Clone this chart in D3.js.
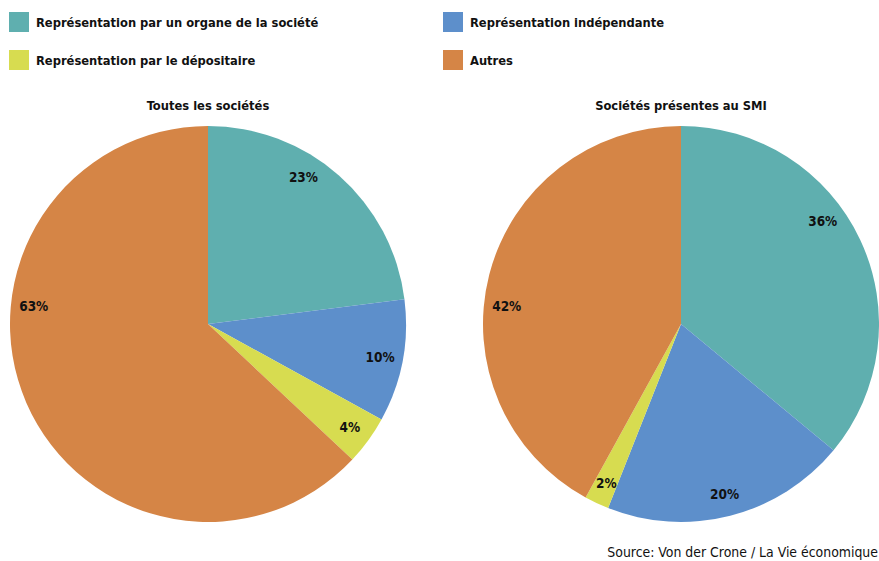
<!DOCTYPE html>
<html lang="fr">
<head>
<meta charset="utf-8">
<title>Représentation</title>
<script src="https://cdn.jsdelivr.net/npm/d3@7"></script>
<style>
  body { margin: 0; background: #fff; }
  text { font-family: "DejaVu Sans Condensed", "Liberation Sans Narrow", sans-serif; fill: #111; }
</style>
</head>
<body>
<script>
// categories and values
var categories = ["Représentation par un organe de la société", "Représentation indépendante",
                  "Représentation par le dépositaire", "Autres"];
var colors = ["#5fafaf", "#5d8fcb", "#d7dc50", "#d58546"];
var titles = ["Toutes les sociétés", "Sociétés présentes au SMI"];
var valuesAll = [23, 10, 4, 63];
var valuesSMI = [36, 20, 2, 42];
// label direction overrides (degrees from top), null = middle of slice
var labelDirAll = [33, null, null, 276];
var labelDirSMI = [54, null, null, 276];

var w = 879, h = 561;
var r = 198;

var svg = d3.select("body").append("svg")
  .attr("width", w)
  .attr("height", h);

// legend: two columns
var legendOrder = [0, 2, 1, 3];
legendOrder.forEach(function(ci, k) {
  var col = Math.floor(k / 2), row = k % 2;
  var g = svg.append("g").attr("transform", "translate(" + (9 + col * 434) + "," + (12 + row * 38) + ")");
  g.append("rect").attr("width", 20).attr("height", 20).attr("fill", colors[ci]);
  g.append("text").attr("x", 27).attr("y", 15)
    .attr("font-size", "12.8px").attr("font-weight", "bold")
    .text(categories[ci]);
});

var pie = d3.pie().sort(null).value(function(d) { return d; });
var arc = d3.arc().innerRadius(0).outerRadius(r);

function drawPie(cx, values, labelDir, title) {
  var g = svg.append("g").attr("transform", "translate(" + cx + ",324)");
  svg.append("text")
    .attr("x", cx).attr("y", 110)
    .attr("text-anchor", "middle")
    .attr("font-size", "12.8px").attr("font-weight", "bold")
    .text(title);

  var arcs = pie(values);
  g.selectAll("path")
    .data(arcs)
    .enter()
    .append("path")
    .attr("d", arc)
    .attr("fill", function(d, i) { return colors[i]; });

  g.selectAll("text.lbl")
    .data(arcs)
    .enter()
    .append("text")
    .attr("class", "lbl")
    .attr("text-anchor", "middle")
    .attr("font-size", "13.5px").attr("font-weight", "bold")
    .attr("x", function(d, i) {
      var a = labelDir[i] != null ? labelDir[i] * Math.PI / 180 : (d.startAngle + d.endAngle) / 2;
      return Math.sin(a) * r * 0.885;
    })
    .attr("y", function(d, i) {
      var a = labelDir[i] != null ? labelDir[i] * Math.PI / 180 : (d.startAngle + d.endAngle) / 2;
      return -Math.cos(a) * r * 0.885 + 5;
    })
    .text(function(d) { return d.value + "%"; });
}

drawPie(208, valuesAll, labelDirAll, titles[0]);
drawPie(681, valuesSMI, labelDirSMI, titles[1]);

svg.append("text")
  .attr("x", 878).attr("y", 557)
  .attr("text-anchor", "end")
  .attr("font-size", "13.9px")
  .text("Source: Von der Crone / La Vie économique");
</script>
</body>
</html>
